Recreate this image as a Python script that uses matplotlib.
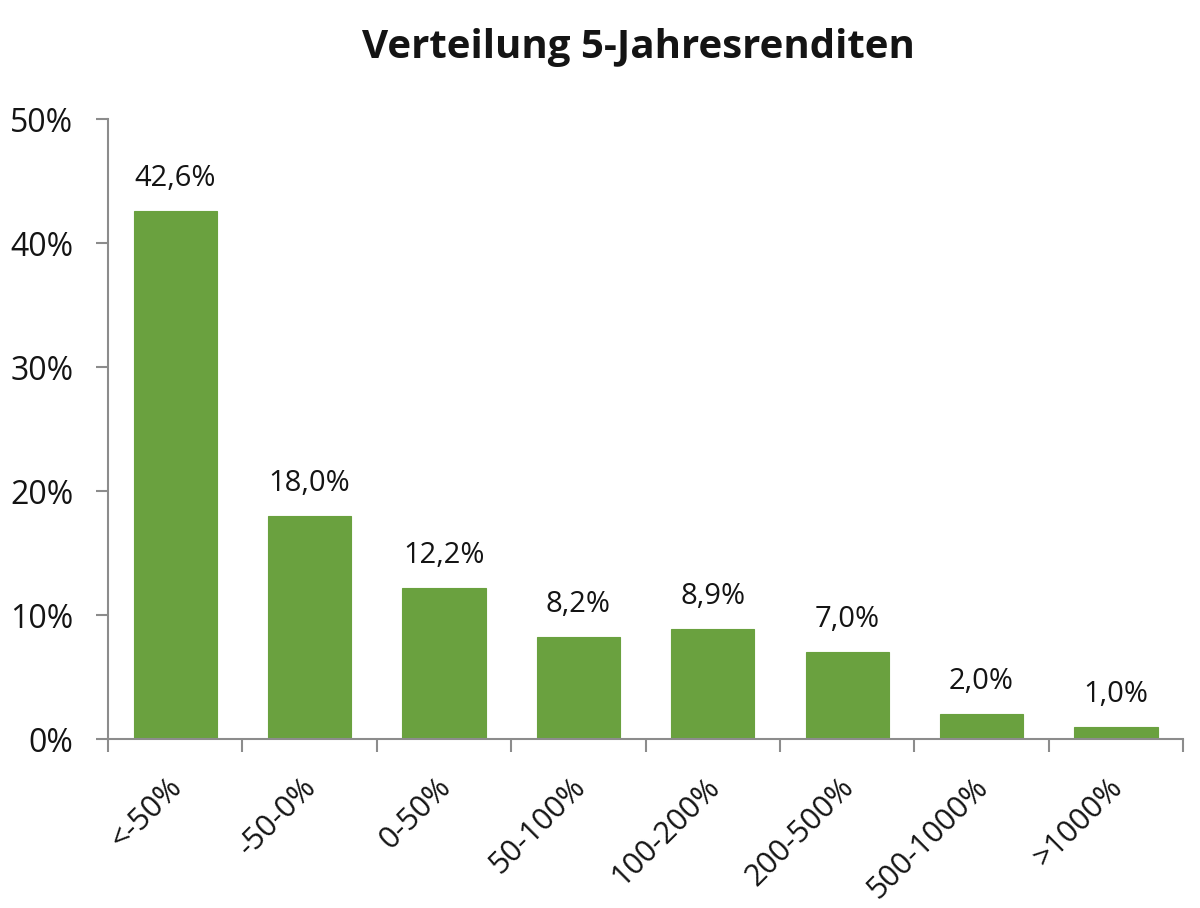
import numpy as np
import matplotlib.pyplot as plt
from matplotlib.ticker import FixedLocator, PercentFormatter
from matplotlib.transforms import ScaledTranslation

categories = ['<-50%', '-50-0%', '0-50%', '50-100%', '100-200%', '200-500%', '500-1000%', '>1000%']
shares = [42.6, 18.0, 12.2, 8.2, 8.9, 7.0, 2.0, 1.0]
value_labels = ['42,6%', '18,0%', '12,2%', '8,2%', '8,9%', '7,0%', '2,0%', '1,0%']

plt.rcParams['font.family'] = ['Open Sans', 'DejaVu Sans']

green = '#6aa13f'
axis_grey = '#8c8c8c'
text_col = '#141414'

fig = plt.figure(figsize=(12, 9.08), dpi=100)
ax = fig.add_axes([0.09, 0.1861, 0.896, 0.6828])

x = np.arange(len(categories))
ax.bar(x, shares, width=0.62, color=green, edgecolor=green, linewidth=0.8, zorder=2)

for xi, val, lab in zip(x, shares, value_labels):
    ax.annotate(lab, (xi, val), xytext=(0, 13), textcoords='offset points',
                ha='center', va='bottom', fontsize=21, color=text_col)

ax.set_xlim(-0.5, len(categories) - 0.5)
ax.set_ylim(0, 50)
ax.set_yticks(np.arange(0, 51, 10))
ax.yaxis.set_major_formatter(PercentFormatter(decimals=0))

# category labels at bar centres, tick marks at boundaries
ax.set_xticks(x)
ax.set_xticklabels(categories, rotation=45, ha='right', va='top',
                   rotation_mode='anchor', fontsize=22, color=text_col)
ax.tick_params(axis='x', which='major', length=0, pad=24)
shift = ScaledTranslation(-6 / 72, 0, fig.dpi_scale_trans)
for lbl in ax.get_xticklabels():
    lbl.set_transform(lbl.get_transform() + shift)
ax.xaxis.set_minor_locator(FixedLocator(np.arange(-0.5, len(categories), 1.0)))
ax.tick_params(axis='x', which='minor', length=9, width=1.5, color=axis_grey, direction='out')

ax.tick_params(axis='y', length=9, width=1.5, color=axis_grey, direction='out',
               labelsize=23, labelcolor=text_col, pad=16)

for side in ['top', 'right']:
    ax.spines[side].set_visible(False)
for side in ['left', 'bottom']:
    ax.spines[side].set_color(axis_grey)
    ax.spines[side].set_linewidth(1.5)

fig.text(0.532, 0.948, 'Verteilung 5-Jahresrenditen', ha='center', va='center',
         fontsize=29, fontweight='bold', color=text_col)

fig.savefig('out.png', dpi=100, facecolor='white')
